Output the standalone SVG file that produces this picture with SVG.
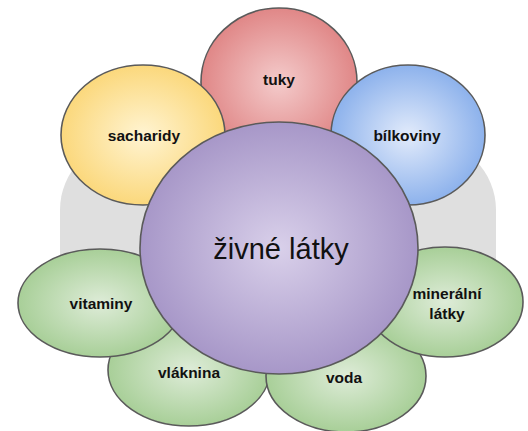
<svg xmlns="http://www.w3.org/2000/svg" width="528" height="431" viewBox="0 0 528 431">
<defs>
<radialGradient id="gRed" cx="50%" cy="50%" r="50%"><stop offset="0" stop-color="#f4cbcb"/><stop offset="1" stop-color="#e08787"/></radialGradient>
<radialGradient id="gYel" cx="50%" cy="50%" r="50%"><stop offset="0" stop-color="#fff4d2"/><stop offset="1" stop-color="#fbd87c"/></radialGradient>
<radialGradient id="gBlu" cx="50%" cy="50%" r="50%"><stop offset="0" stop-color="#e2ebfb"/><stop offset="1" stop-color="#8db2ec"/></radialGradient>
<radialGradient id="gPur" cx="50%" cy="50%" r="50%"><stop offset="0" stop-color="#d9d0ea"/><stop offset="1" stop-color="#a797c8"/></radialGradient>
<radialGradient id="gGrn" cx="50%" cy="50%" r="50%"><stop offset="0" stop-color="#deecd8"/><stop offset="1" stop-color="#a8cf98"/></radialGradient>
<style>
.n{stroke:#5a5a5a;stroke-width:1.6}
.t{font-family:"Liberation Sans",Arial,sans-serif;font-weight:bold;font-size:15.5px;fill:#111;text-anchor:middle}
.c{font-family:"Liberation Sans",Arial,sans-serif;font-size:29px;fill:#111;text-anchor:middle}
</style>
</defs>
<g id="background"><rect x="60" y="140" width="436" height="215" rx="70" ry="70" fill="#dfdfdf"/></g>
<g id="connectors"></g>
<g id="tuky"><ellipse class="n" cx="279" cy="82" rx="78" ry="74" fill="url(#gRed)"/><text class="t" x="279" y="85">tuky</text></g>
<g id="sacharidy"><ellipse class="n" cx="143" cy="135" rx="82" ry="70" fill="url(#gYel)"/><text class="t" x="144" y="141">sacharidy</text></g>
<g id="bilkoviny"><ellipse class="n" cx="408" cy="135" rx="77" ry="70" fill="url(#gBlu)"/><text class="t" x="407" y="141">bílkoviny</text></g>
<g id="vlaknina"><ellipse class="n" cx="189" cy="370" rx="81" ry="56" fill="url(#gGrn)"/><text class="t" x="189" y="378">vláknina</text></g>
<g id="vitaminy"><ellipse class="n" cx="100" cy="303" rx="82" ry="54" fill="url(#gGrn)"/><text class="t" x="101" y="309">vitaminy</text></g>
<g id="voda"><ellipse class="n" cx="346" cy="376" rx="80" ry="56" fill="url(#gGrn)"/><text class="t" x="344" y="383">voda</text></g>
<g id="mineralni"><ellipse class="n" cx="445" cy="302" rx="78" ry="55" fill="url(#gGrn)"/><text class="t" x="447" y="299">minerální</text><text class="t" x="447" y="319">látky</text></g>
<g id="zivne-latky"><ellipse class="n" cx="279" cy="248" rx="139" ry="126" fill="url(#gPur)"/><text class="c" x="281" y="259">živné látky</text></g>
</svg>
